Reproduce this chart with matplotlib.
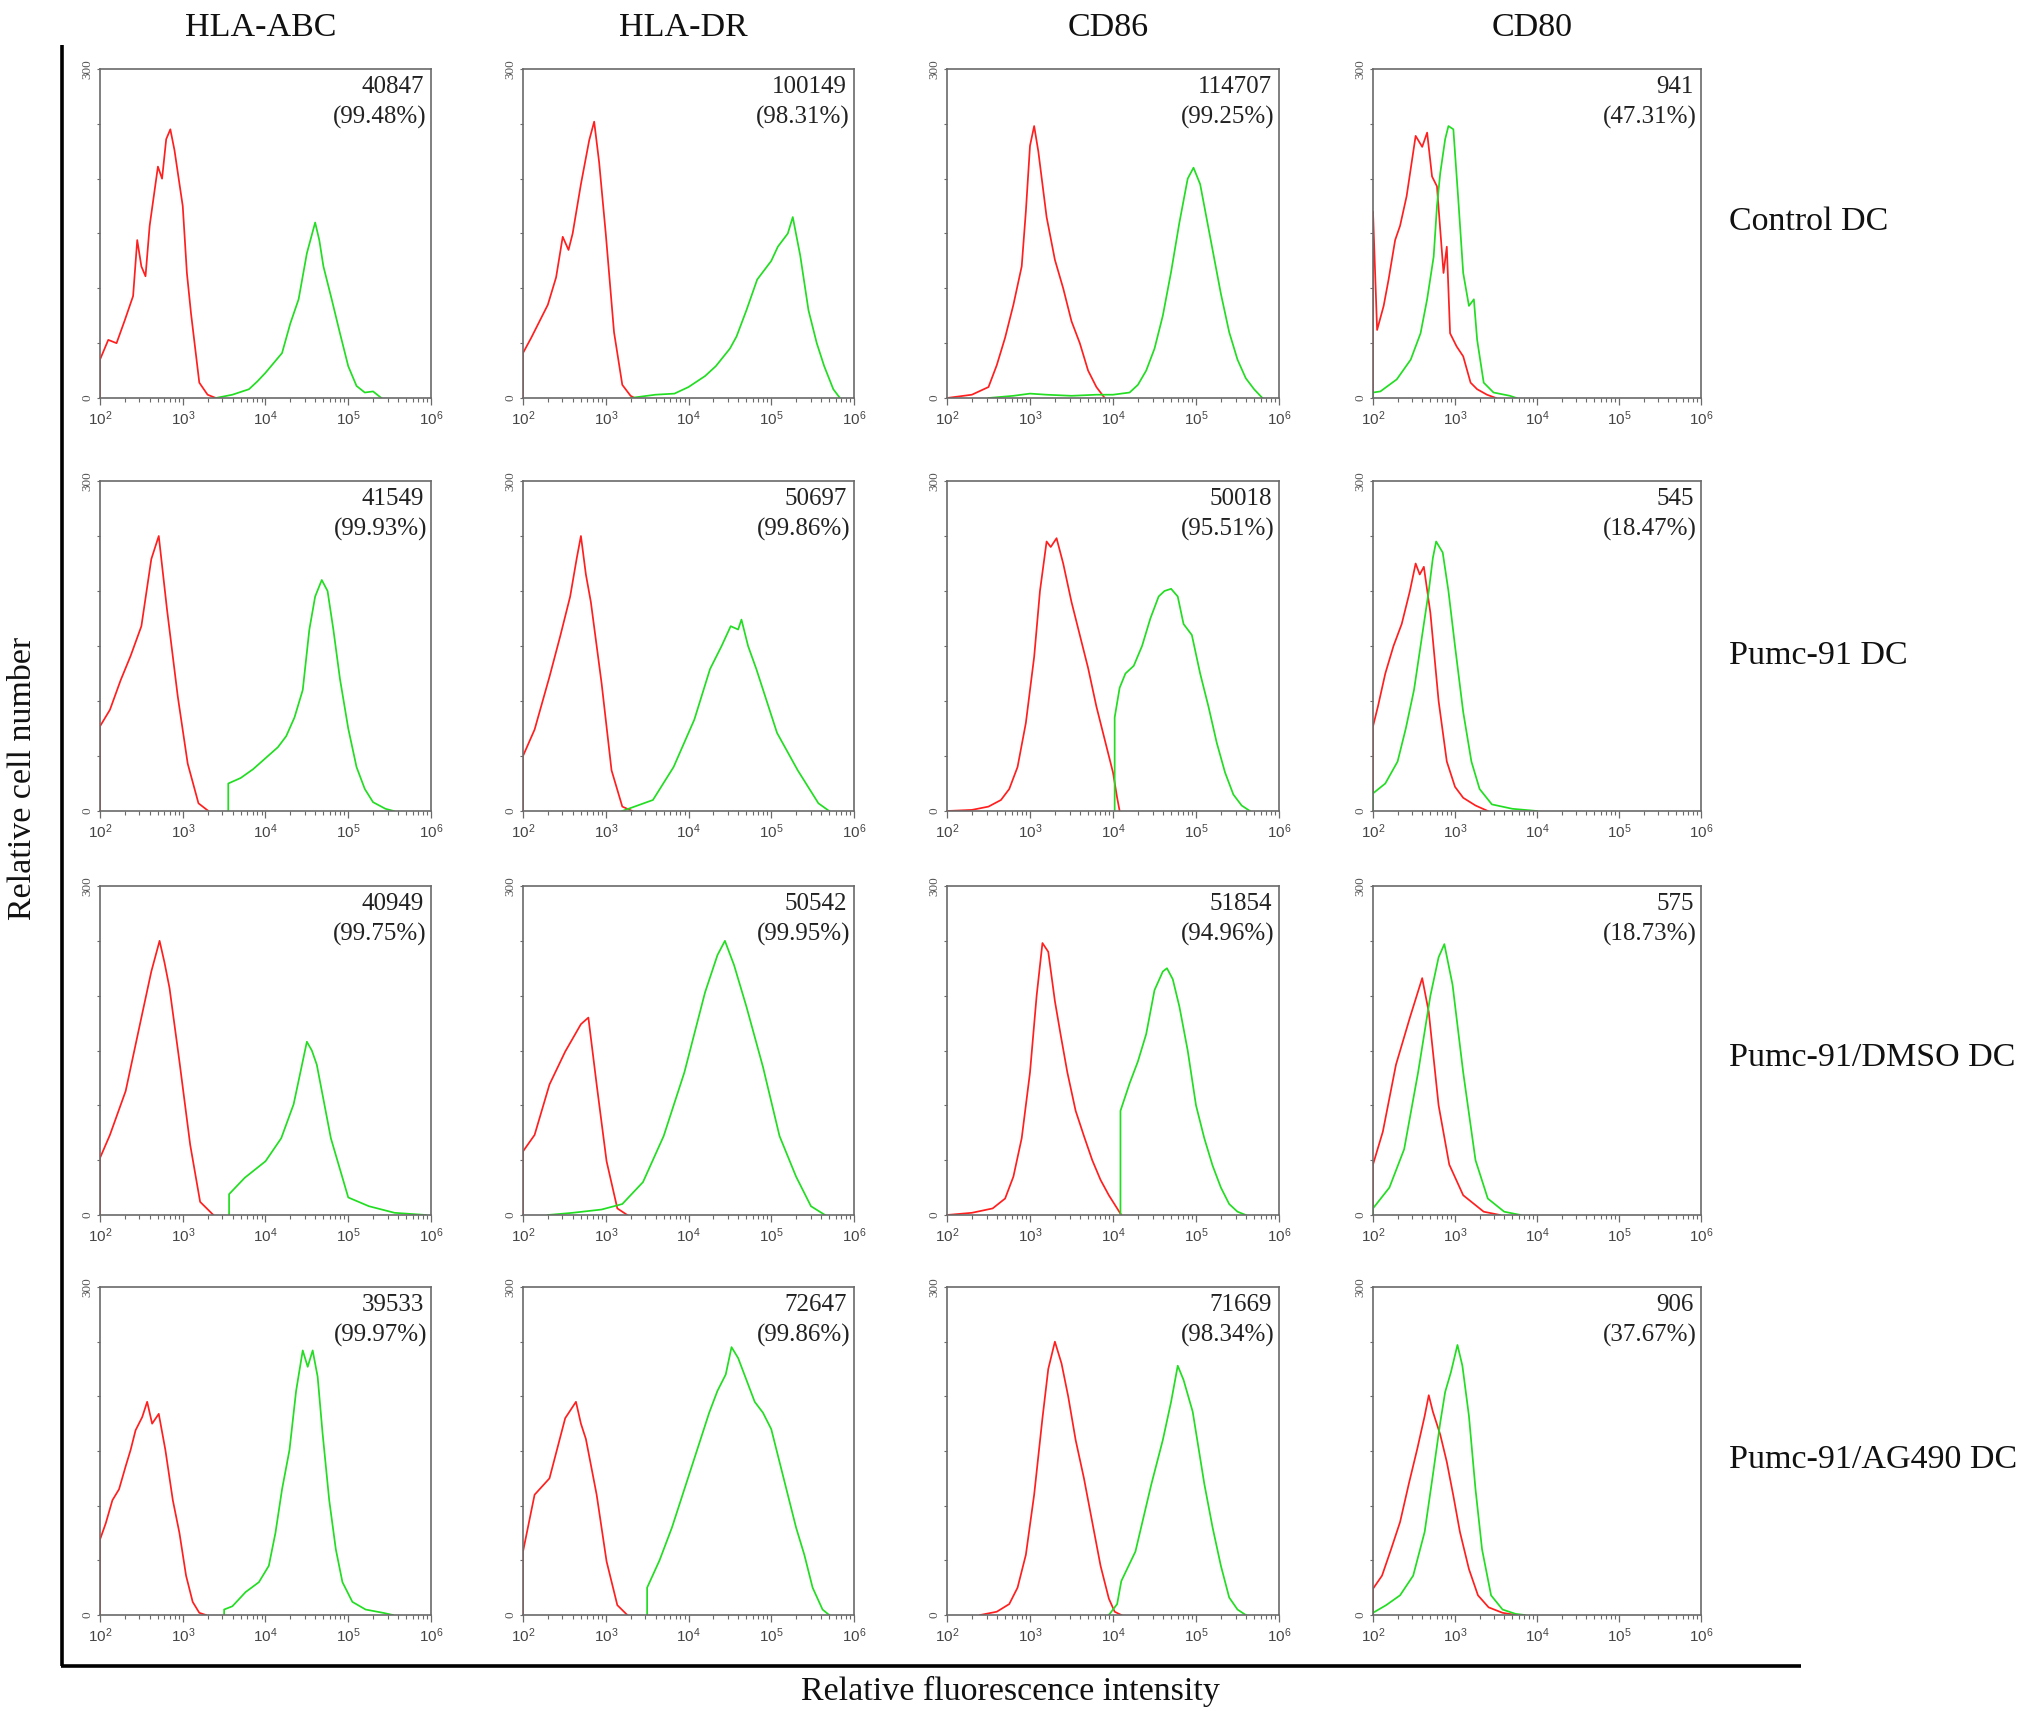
import numpy as np
import matplotlib
matplotlib.use("Agg")
import matplotlib.pyplot as plt
from matplotlib.lines import Line2D
from matplotlib.ticker import FixedLocator, FixedFormatter, NullFormatter

plt.rcParams['mathtext.fontset'] = 'custom'
plt.rcParams['mathtext.rm'] = 'Liberation Sans'
plt.rcParams['mathtext.it'] = 'Liberation Sans:italic'
plt.rcParams['mathtext.bf'] = 'Liberation Sans:bold'

# ---------------- data ----------------
markers = ["HLA-ABC", "HLA-DR", "CD86", "CD80"]
conditions = ["Control DC", "Pumc-91 DC", "Pumc-91/DMSO DC", "Pumc-91/AG490 DC"]

mfi = [["40847", "100149", "114707", "941"],
       ["41549", "50697", "50018", "545"],
       ["40949", "50542", "51854", "575"],
       ["39533", "72647", "71669", "906"]]
pct = [["99.48%", "98.31%", "99.25%", "47.31%"],
       ["99.93%", "99.86%", "95.51%", "18.47%"],
       ["99.75%", "99.95%", "94.96%", "18.73%"],
       ["99.97%", "99.86%", "98.34%", "37.67%"]]

y_ticks = [0, 50, 100, 150, 200, 250, 300]
y_tick_labels = ["0", "", "", "", "", "", "300"]
x_decades = [2, 3, 4, 5, 6]

# histogram curves: log10(intensity) and cell counts (red = isotype, green = marker)
# Control DC
abc_ctrl_red_x = [2.0, 2.1, 2.2, 2.3, 2.4, 2.45, 2.5, 2.55, 2.6, 2.7, 2.75, 2.8, 2.85, 2.9, 3.0, 3.05, 3.1, 3.2, 3.3, 3.4]
abc_ctrl_red_y = [35, 53, 50, 71, 93, 144, 120, 111, 157, 211, 200, 236, 245, 226, 175, 114, 77, 14, 3, 0]
abc_ctrl_grn_x = [3.4, 3.6, 3.8, 3.9, 4.0, 4.1, 4.2, 4.3, 4.4, 4.5, 4.6, 4.65, 4.7, 4.8, 4.9, 5.0, 5.1, 5.2, 5.3, 5.4]
abc_ctrl_grn_y = [0, 3, 8, 15, 23, 32, 41, 68, 90, 132, 160, 144, 120, 90, 59, 29, 11, 5, 6, 0]

dr_ctrl_red_x = [2.0, 2.1, 2.2, 2.3, 2.4, 2.48, 2.55, 2.6, 2.7, 2.8, 2.86, 2.92, 3.0, 3.1, 3.2, 3.3, 3.35]
dr_ctrl_red_y = [41, 55, 70, 85, 110, 147, 135, 150, 195, 235, 252, 215, 150, 60, 12, 2, 0]
dr_ctrl_grn_x = [3.3, 3.6, 3.83, 4.0, 4.2, 4.33, 4.5, 4.58, 4.7, 4.83, 5.0, 5.08, 5.2, 5.26, 5.35, 5.45, 5.55, 5.64, 5.75, 5.83]
dr_ctrl_grn_y = [0, 3, 4, 10, 20, 29, 45, 56, 80, 108, 125, 138, 150, 165, 130, 80, 50, 29, 8, 0]

cd86_ctrl_red_x = [2.0, 2.3, 2.5, 2.6, 2.7, 2.8, 2.9, 2.95, 3.0, 3.05, 3.1, 3.2, 3.3, 3.4, 3.5, 3.6, 3.7, 3.8, 3.9]
cd86_ctrl_red_y = [0, 3, 10, 30, 55, 85, 120, 170, 230, 248, 225, 165, 126, 100, 70, 50, 25, 10, 0]
cd86_ctrl_grn_x = [2.5, 2.8, 3.0, 3.2, 3.5, 3.8, 4.0, 4.2, 4.3, 4.4, 4.5, 4.6, 4.7, 4.8, 4.9, 4.97, 5.05, 5.1, 5.2, 5.3, 5.4, 5.5, 5.6, 5.7, 5.8]
cd86_ctrl_grn_y = [0, 2, 4, 3, 2, 3, 3, 5, 12, 25, 45, 75, 115, 160, 200, 210, 195, 175, 135, 95, 60, 35, 18, 8, 0]

cd80_ctrl_red_x = [2.0, 2.05, 2.13, 2.19, 2.27, 2.33, 2.41, 2.52, 2.6, 2.66, 2.72, 2.78, 2.86, 2.9, 2.94, 3.02, 3.1, 3.19, 3.27, 3.39, 3.5]
cd80_ctrl_red_y = [170, 62, 84, 108, 144, 157, 184, 239, 229, 242, 202, 193, 114, 138, 59, 47, 38, 14, 8, 3, 0]
cd80_ctrl_grn_x = [2.0, 2.09, 2.29, 2.46, 2.58, 2.66, 2.74, 2.78, 2.82, 2.88, 2.92, 2.98, 3.04, 3.1, 3.17, 3.23, 3.27, 3.35, 3.47, 3.67, 3.75]
cd80_ctrl_grn_y = [5, 6, 17, 35, 59, 90, 129, 175, 205, 236, 248, 245, 181, 114, 84, 90, 53, 14, 5, 2, 0]

# Pumc-91 DC
abc_p91_red_x = [2.0, 2.12, 2.25, 2.37, 2.5, 2.62, 2.71, 2.81, 2.94, 3.06, 3.19, 3.31]
abc_p91_red_y = [77, 92, 119, 141, 168, 229, 250, 183, 104, 43, 7, 0]
abc_p91_grn_x = [3.55, 3.55, 3.7, 3.85, 4.0, 4.15, 4.25, 4.35, 4.45, 4.53, 4.6, 4.68, 4.75, 4.82, 4.9, 5.0, 5.1, 5.2, 5.3, 5.45, 5.55]
abc_p91_grn_y = [0, 25, 30, 38, 48, 58, 68, 85, 110, 165, 195, 210, 200, 165, 120, 75, 40, 20, 8, 2, 0]

dr_p91_red_x = [2.0, 2.14, 2.32, 2.45, 2.57, 2.65, 2.7, 2.76, 2.82, 2.95, 3.07, 3.2, 3.32]
dr_p91_red_y = [50, 74, 122, 159, 195, 230, 250, 215, 190, 116, 37, 4, 0]
dr_p91_grn_x = [3.2, 3.57, 3.82, 4.07, 4.26, 4.4, 4.51, 4.6, 4.64, 4.72, 4.82, 5.07, 5.32, 5.57, 5.7]
dr_p91_grn_y = [0, 10, 40, 83, 129, 150, 168, 165, 174, 150, 129, 71, 37, 7, 0]

cd86_p91_red_x = [2.0, 2.3, 2.5, 2.65, 2.75, 2.85, 2.95, 3.05, 3.12, 3.2, 3.25, 3.32, 3.4, 3.5, 3.6, 3.7, 3.8, 3.9, 4.0, 4.05, 4.08]
cd86_p91_red_y = [0, 1, 4, 10, 20, 40, 80, 140, 200, 245, 240, 248, 225, 190, 160, 130, 95, 65, 35, 12, 0]
cd86_p91_grn_x = [4.02, 4.02, 4.08, 4.15, 4.25, 4.35, 4.45, 4.55, 4.62, 4.7, 4.78, 4.85, 4.95, 5.05, 5.15, 5.25, 5.35, 5.45, 5.55, 5.65]
cd86_p91_grn_y = [0, 85, 112, 125, 132, 150, 175, 195, 200, 202, 195, 170, 160, 125, 95, 62, 35, 15, 5, 0]

cd80_p91_red_x = [2.0, 2.06, 2.15, 2.25, 2.35, 2.45, 2.52, 2.57, 2.62, 2.7, 2.8, 2.9, 3.0, 3.1, 3.25, 3.4]
cd80_p91_red_y = [77, 95, 125, 150, 170, 200, 225, 215, 222, 180, 100, 45, 22, 12, 5, 0]
cd80_p91_grn_x = [2.0, 2.15, 2.3, 2.4, 2.5, 2.6, 2.68, 2.73, 2.77, 2.85, 2.92, 3.0, 3.1, 3.2, 3.3, 3.45, 3.7, 4.0]
cd80_p91_grn_y = [16, 25, 45, 75, 110, 160, 200, 230, 245, 235, 200, 150, 90, 45, 20, 6, 2, 0]

# Pumc-91/DMSO DC
abc_dmso_red_x = [2.0, 2.12, 2.31, 2.5, 2.62, 2.72, 2.78, 2.84, 2.96, 3.09, 3.21, 3.37]
abc_dmso_red_y = [52, 73, 113, 180, 222, 250, 230, 207, 140, 64, 12, 0]
abc_dmso_grn_x = [3.56, 3.56, 3.75, 4.0, 4.19, 4.34, 4.5, 4.56, 4.62, 4.79, 5.0, 5.25, 5.56, 5.94]
abc_dmso_grn_y = [0, 19, 34, 49, 70, 101, 158, 150, 137, 70, 16, 8, 2, 0]

dr_dmso_red_x = [2.0, 2.14, 2.32, 2.51, 2.7, 2.79, 2.89, 3.01, 3.14, 3.26]
dr_dmso_red_y = [58, 73, 119, 149, 174, 180, 119, 49, 6, 0]
dr_dmso_grn_x = [2.3, 2.6, 2.95, 3.2, 3.45, 3.7, 3.95, 4.2, 4.35, 4.44, 4.55, 4.7, 4.9, 5.1, 5.3, 5.48, 5.65]
dr_dmso_grn_y = [0, 2, 5, 10, 30, 72, 130, 203, 237, 250, 228, 190, 135, 72, 35, 8, 0]

cd86_dmso_red_x = [2.0, 2.3, 2.55, 2.7, 2.8, 2.9, 3.0, 3.08, 3.15, 3.22, 3.3, 3.37, 3.45, 3.55, 3.65, 3.75, 3.85, 3.95, 4.05, 4.1]
cd86_dmso_red_y = [0, 2, 6, 15, 35, 70, 130, 200, 248, 240, 195, 164, 130, 95, 72, 50, 32, 18, 6, 0]
cd86_dmso_grn_x = [4.09, 4.09, 4.2, 4.3, 4.4, 4.5, 4.6, 4.65, 4.72, 4.8, 4.9, 5.0, 5.1, 5.2, 5.3, 5.4, 5.5, 5.6]
cd86_dmso_grn_y = [0, 95, 120, 140, 165, 205, 222, 225, 215, 190, 150, 100, 70, 45, 25, 10, 3, 0]

cd80_dmso_red_x = [2.0, 2.12, 2.28, 2.45, 2.6, 2.68, 2.8, 2.93, 3.1, 3.35, 3.55]
cd80_dmso_red_y = [46, 76, 137, 180, 216, 185, 100, 46, 18, 3, 0]
cd80_dmso_grn_x = [2.0, 2.2, 2.38, 2.55, 2.7, 2.8, 2.87, 2.97, 3.1, 3.25, 3.4, 3.6, 3.8]
cd80_dmso_grn_y = [6, 25, 60, 130, 200, 235, 247, 210, 130, 50, 15, 3, 0]

# Pumc-91/AG490 DC
abc_ag_red_x = [2.0, 2.07, 2.15, 2.23, 2.31, 2.37, 2.43, 2.51, 2.57, 2.63, 2.71, 2.79, 2.88, 2.96, 3.04, 3.12, 3.2, 3.28]
abc_ag_red_y = [69, 84, 105, 115, 136, 151, 169, 181, 195, 175, 184, 151, 105, 75, 36, 12, 2, 0]
abc_ag_grn_x = [3.5, 3.6, 3.76, 3.92, 4.04, 4.12, 4.2, 4.29, 4.37, 4.45, 4.51, 4.57, 4.63, 4.69, 4.77, 4.85, 4.93, 5.05, 5.21, 5.42, 5.54]
abc_ag_grn_y = [5, 8, 21, 30, 45, 75, 115, 151, 205, 242, 227, 242, 218, 166, 105, 60, 30, 12, 5, 2, 0]

dr_ag_red_x = [2.0, 2.14, 2.32, 2.51, 2.64, 2.7, 2.76, 2.89, 3.01, 3.14, 3.26]
dr_ag_red_y = [58, 110, 125, 180, 195, 175, 161, 110, 49, 9, 0]
dr_ag_grn_x = [3.5, 3.5, 3.65, 3.8, 3.95, 4.1, 4.25, 4.35, 4.45, 4.52, 4.6, 4.7, 4.8, 4.9, 5.0, 5.1, 5.2, 5.3, 5.4, 5.5, 5.62, 5.7]
dr_ag_grn_y = [0, 25, 50, 80, 115, 150, 185, 205, 220, 245, 235, 215, 195, 185, 170, 140, 110, 80, 55, 25, 5, 0]

cd86_ag_red_x = [2.4, 2.6, 2.75, 2.85, 2.95, 3.05, 3.15, 3.22, 3.3, 3.38, 3.46, 3.55, 3.65, 3.75, 3.85, 3.95, 4.02, 4.1]
cd86_ag_red_y = [0, 3, 10, 25, 55, 110, 180, 225, 250, 230, 200, 160, 125, 85, 45, 15, 3, 0]
cd86_ag_grn_x = [3.95, 4.05, 4.1, 4.27, 4.46, 4.6, 4.7, 4.78, 4.85, 4.96, 5.1, 5.2, 5.3, 5.4, 5.5, 5.6]
cd86_ag_grn_y = [0, 10, 31, 58, 119, 160, 195, 228, 215, 186, 120, 80, 45, 16, 5, 0]

cd80_ag_red_x = [2.0, 2.11, 2.22, 2.33, 2.44, 2.54, 2.63, 2.68, 2.73, 2.82, 2.9, 2.98, 3.06, 3.17, 3.28, 3.41, 3.58, 3.74]
cd80_ag_red_y = [24, 36, 60, 85, 121, 152, 182, 201, 186, 165, 140, 109, 76, 42, 18, 7, 2, 0]
cd80_ag_grn_x = [2.0, 2.16, 2.33, 2.49, 2.63, 2.73, 2.82, 2.88, 2.95, 3.03, 3.09, 3.17, 3.25, 3.33, 3.44, 3.58, 3.74, 3.85]
cd80_ag_grn_y = [2, 9, 18, 36, 76, 128, 176, 204, 222, 247, 228, 182, 115, 60, 18, 5, 1, 0]

curves = [
    [(abc_ctrl_red_x, abc_ctrl_red_y, abc_ctrl_grn_x, abc_ctrl_grn_y),
     (dr_ctrl_red_x, dr_ctrl_red_y, dr_ctrl_grn_x, dr_ctrl_grn_y),
     (cd86_ctrl_red_x, cd86_ctrl_red_y, cd86_ctrl_grn_x, cd86_ctrl_grn_y),
     (cd80_ctrl_red_x, cd80_ctrl_red_y, cd80_ctrl_grn_x, cd80_ctrl_grn_y)],
    [(abc_p91_red_x, abc_p91_red_y, abc_p91_grn_x, abc_p91_grn_y),
     (dr_p91_red_x, dr_p91_red_y, dr_p91_grn_x, dr_p91_grn_y),
     (cd86_p91_red_x, cd86_p91_red_y, cd86_p91_grn_x, cd86_p91_grn_y),
     (cd80_p91_red_x, cd80_p91_red_y, cd80_p91_grn_x, cd80_p91_grn_y)],
    [(abc_dmso_red_x, abc_dmso_red_y, abc_dmso_grn_x, abc_dmso_grn_y),
     (dr_dmso_red_x, dr_dmso_red_y, dr_dmso_grn_x, dr_dmso_grn_y),
     (cd86_dmso_red_x, cd86_dmso_red_y, cd86_dmso_grn_x, cd86_dmso_grn_y),
     (cd80_dmso_red_x, cd80_dmso_red_y, cd80_dmso_grn_x, cd80_dmso_grn_y)],
    [(abc_ag_red_x, abc_ag_red_y, abc_ag_grn_x, abc_ag_grn_y),
     (dr_ag_red_x, dr_ag_red_y, dr_ag_grn_x, dr_ag_grn_y),
     (cd86_ag_red_x, cd86_ag_red_y, cd86_ag_grn_x, cd86_ag_grn_y),
     (cd80_ag_red_x, cd80_ag_red_y, cd80_ag_grn_x, cd80_ag_grn_y)],
]

# ---------------- layout ----------------
W, H = 2031, 1719
fig = plt.figure(figsize=(W / 100, H / 100), dpi=100)
fig.patch.set_facecolor("white")

col_px = [(100, 431), (523, 854), (947, 1279), (1373, 1701)]
row_px = [(69, 398), (481, 811), (886, 1215), (1287, 1615)]

SERIF = ["Liberation Serif", "DejaVu Serif"]
SANS = ["Liberation Sans", "DejaVu Sans"]
RED = "#ff1f1f"
GREEN = "#22dd22"
SPINE = "#6a6a6a"


def fx(px):
    return px / W


def fy(py):
    return 1 - py / H


def draw_curve(ax, lx, ly, color):
    lx = list(lx)
    ly = list(ly)
    if ly[0] > 0:
        lx = [lx[0]] + lx
        ly = [0] + ly
    ax.plot(10 ** np.array(lx, dtype=float), ly, color=color, lw=1.25, solid_joinstyle="round")


for r in range(4):
    for c in range(4):
        x0, x1 = col_px[c]
        y0, y1 = row_px[r]
        aw, ah = x1 - x0, y1 - y0
        ax = fig.add_axes([fx(x0), fy(y1), aw / W, ah / H])
        rx, ry, gx, gy = curves[r][c]
        draw_curve(ax, rx, ry, RED)
        draw_curve(ax, gx, gy, GREEN)
        ax.set_xscale("log")
        ax.set_xlim(1e2, 1e6)
        ax.set_ylim(0, 300)
        for s in ax.spines.values():
            s.set_color(SPINE)
            s.set_linewidth(1.2)
        ax.xaxis.set_major_locator(FixedLocator([10.0 ** d for d in x_decades]))
        ax.xaxis.set_major_formatter(FixedFormatter(["$10^{%d}$" % d for d in x_decades]))
        minors = [m * 10.0 ** d for d in x_decades[:-1] for m in range(2, 10)]
        ax.xaxis.set_minor_locator(FixedLocator(minors))
        ax.xaxis.set_minor_formatter(NullFormatter())
        ax.tick_params(axis="x", which="major", direction="out", length=5, width=0.9,
                       color=SPINE, labelsize=11, labelcolor="#444444", pad=3)
        ax.tick_params(axis="x", which="minor", direction="out", length=3, width=0.8, color=SPINE)
        ax.yaxis.set_major_locator(FixedLocator(y_ticks))
        ax.yaxis.set_major_formatter(FixedFormatter(y_tick_labels))
        ax.tick_params(axis="y", which="major", direction="out", length=2.5, width=0.8,
                       color=SPINE, labelsize=9.5, labelcolor="#555555", pad=2)
        for lab in ax.get_yticklabels():
            lab.set_rotation(90)
            lab.set_va("center")
            lab.set_family(SERIF)
        for lab in ax.get_xticklabels():
            lab.set_family(SANS)
        ax.text(1 - 7 / aw, 1 - 24 / ah, mfi[r][c], transform=ax.transAxes,
                ha="right", va="baseline", fontsize=18, family=SERIF, color="#222222")
        ax.text(1 - 4 / aw, 1 - 55 / ah, "(" + pct[r][c] + ")", transform=ax.transAxes,
                ha="right", va="baseline", fontsize=18, family=SERIF, color="#222222")

# column titles
for c, name in enumerate(markers):
    x0, x1 = col_px[c]
    fig.text(fx((x0 + x1) / 2 - 5), fy(36), name, ha="center", va="baseline",
             fontsize=24.5, family=SERIF, color="#111111")

# row labels
row_baselines = [230, 664, 1066, 1468]
for r, name in enumerate(conditions):
    fig.text(fx(1729), fy(row_baselines[r]), name, ha="left", va="baseline",
             fontsize=24.5, family=SERIF, color="#111111")

# big L frame
fig.add_artist(Line2D([fx(62), fx(62)], [fy(45), fy(1666)], color="black", lw=2.6,
                      solid_capstyle="butt"))
fig.add_artist(Line2D([fx(61), fx(1801)], [fy(1666), fy(1666)], color="black", lw=2.6,
                      solid_capstyle="butt"))

fig.text(fx(23), fy(778), "Relative cell number", rotation=90, ha="center", va="center",
         fontsize=24.5, family=SERIF, color="#111111")
fig.text(fx(1010), fy(1700), "Relative fluorescence intensity", ha="center", va="baseline",
         fontsize=24.5, family=SERIF, color="#111111")

fig.savefig("out.png", dpi=100, facecolor="white")
